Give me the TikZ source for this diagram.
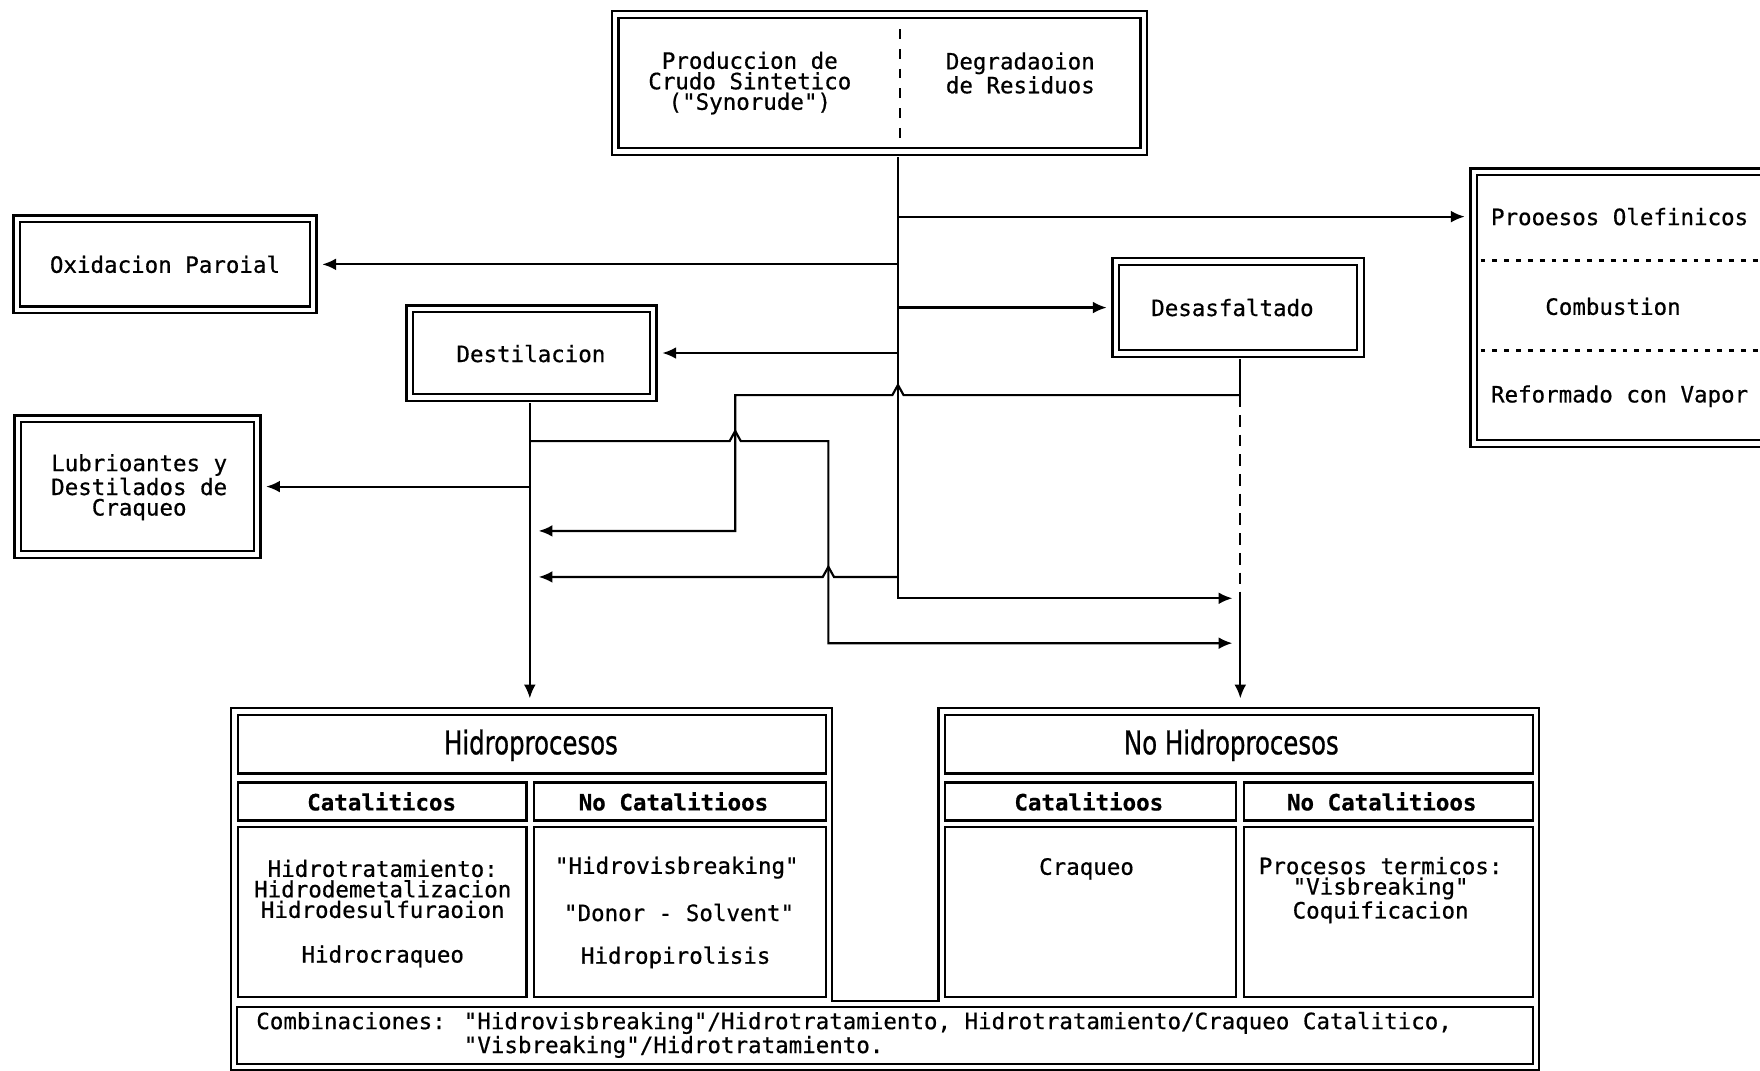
\documentclass[tikz,border=0pt]{standalone}
\usepackage{fontspec}
\usetikzlibrary{arrows.meta,fit}
\newfontfamily\dotmono[FakeBold=0.6]{DejaVu Sans Mono}
\newfontfamily\narrowsans[FakeStretch=0.75,FakeBold=0.8]{DejaVu Sans}

\tikzset{
  lbl/.style={font=\dotmono\fontsize{11.4pt}{10.4pt}\selectfont, align=center, inner sep=0pt},
  combolbl/.style={font=\dotmono\fontsize{11.4pt}{9.8pt}\selectfont, align=left, inner sep=0pt},
  hdr/.style={font=\dotmono\bfseries\fontsize{11.4pt}{12pt}\selectfont, inner sep=0pt},
  ttl/.style={font=\narrowsans\fontsize{16.5pt}{18pt}\selectfont, inner sep=0pt},
  dblbox/.style={rectangle, draw, line width=1.2pt, double=white, double distance=2.2pt, inner sep=0pt},
  cell/.style={rectangle, draw, line width=1.2pt, inner sep=0pt},
  flow/.style={line width=1.1pt},
  arr/.style={flow, -{Latex[length=7pt,width=6pt]}},
  intobox/.style={shorten >=4pt},
  frombox/.style={shorten <=2.2pt},
  dashflow/.style={flow, dash pattern=on 6pt off 4pt},
  sepline/.style={line width=1.5pt, dash pattern=on 2.5pt off 3.5pt},
}

\begin{document}
\begin{tikzpicture}[x=0.02cm, y=-0.02cm]
\path[use as bounding box, fill=white] (0,0) rectangle (1568,954);

% ---- source box ----
\node[dblbox, fit={(548,13) (1019,135)}] (top) {};
\node[lbl] (synt) at (668,74) {Produccion de\\Crudo Sintetico\\("Synorude")};
\node[lbl] (degr) at (909,65) {Degradaoion\\de Residuos};
\draw[line width=1pt, dash pattern=on 5pt off 5pt] (802,26) -- (802,124);

% ---- end uses (right) ----
\node[dblbox, fit={(1313,153) (1640,395)}] (proc) {};
\node[lbl, anchor=west] (olef) at (1328,193) {Prooesos Olefinicos};
\node[lbl] (comb) at (1437,273) {Combustion};
\node[lbl, anchor=west] (refo) at (1328,353) {Reformado con Vapor};
\draw[sepline] (1319,232) -- (1640,232);
\draw[sepline] (1319,312) -- (1640,312);

% ---- intermediate processes ----
\node[dblbox, fit={(15,195) (279,276)}] (oxi) {};
\node[lbl] (oxit) at (oxi.center) {Oxidacion Paroial};

\node[dblbox, fit={(994,233) (1212,315)}] (desa) {};
\node[lbl] (desat) at (1098,274) {Desasfaltado};

\node[dblbox, fit={(365,275) (582,354)}] (dest) {};
\node[lbl] (destt) at (473,315) {Destilacion};

\node[dblbox, fit={(16,373) (229,494)}] (lub) {};
\node[lbl] (lubt) at (124,434) {Lubrioantes y\\Destilados de\\Craqueo};

% ---- classification tables ----
\coordinate (fNW) at (206,631);
\coordinate (fNE1) at (741,631);
\coordinate (fJ1) at (741,892);
\coordinate (fJ2) at (836,892);
\coordinate (fNW2) at (836,631);
\coordinate (fNE) at (1371,631);
\coordinate (fSE) at (1371,953);
\coordinate (fSW) at (206,953);
\draw[line width=1.2pt] (fNW) -- (fNE1) -- (fJ1) -- (fJ2) -- (fNW2) -- (fNE) -- (fSE) -- (fSW) -- cycle;

% hydroprocesses
\node[cell, fit={(212,637) (736,689)}] (hT) {};
\node[cell, fit={(212,697) (469,731)}] (hC) {};
\node[cell, fit={(476,697) (736,731)}] (hN) {};
\node[cell, fit={(212,737) (469,888)}] (hCb) {};
\node[cell, fit={(476,737) (736,888)}] (hNb) {};
\node[ttl] (hTt) at (473,664) {Hidroprocesos};
\node[hdr] (hCt) at (340,714) {Cataliticos};
\node[hdr] (hNt) at (600,714) {No Catalitioos};
\node[lbl] (hCb1) at (341,792) {Hidrotratamiento:\\Hidrodemetalizacion\\Hidrodesulfuraoion};
\node[lbl] (hCb2) at (341,852) {Hidrocraqueo};
\node[lbl] (hNb1) at (603,773) {"Hidrovisbreaking"};
\node[lbl] (hNb2) at (605,813) {"Donor - Solvent"};
\node[lbl] (hNb3) at (602,853) {Hidropirolisis};

% non-hydroprocesses
\node[cell, fit={(842,637) (1366,689)}] (nT) {};
\node[cell, fit={(842,697) (1101,731)}] (nC) {};
\node[cell, fit={(1108,697) (1366,731)}] (nN) {};
\node[cell, fit={(842,737) (1101,888)}] (nCb) {};
\node[cell, fit={(1108,737) (1366,888)}] (nNb) {};
\node[ttl] (nTt) at (1097,664) {No Hidroprocesos};
\node[hdr] (nCt) at (970,714) {Catalitioos};
\node[hdr] (nNt) at (1231,714) {No Catalitioos};
\node[lbl] (nCb1) at (968,774) {Craqueo};
\node[lbl] (nNb1) at (1230,793) {Procesos termicos:\\"Visbreaking"\\Coquificacion};

% combinations row
\node[cell, fit={(211,897) (1366,948)}] (cmb) {};
\node[combolbl, anchor=west] (cmbt) at (228,922) {Combinaciones: "Hidrovisbreaking"/Hidrotratamiento, Hidrotratamiento/Craqueo Catalitico,\\\hphantom{Combinaciones: }"Visbreaking"/Hidrotratamiento.};

% ---- connectors ----
\coordinate (tx) at (800,0);
\coordinate (dx) at (472,0);
\coordinate (dv) at (1105,0);

% main trunk
\coordinate (tEnd) at (800,533);
\draw[arr, frombox, shorten >=4pt] (top.south -| tx) -- (tEnd) -- (tEnd -| dv);
\draw[arr, intobox] (olef -| tx) -- (olef -| proc.west);
\draw[arr, intobox] (oxi.east -| tx) -- (oxi.east);
\draw[arr, intobox] (desa.west -| tx) -- (desa.west);
\draw[arr, intobox] (dest.east -| tx) -- (dest.east);

% distillation outputs
\draw[arr, frombox, shorten >=5pt] (dest.south -| dx) -- (fNW -| dx);
\draw[arr, intobox] (lub.east -| dx) -- (lub.east);
\coordinate (b1) at (472,393);
\coordinate (b1c) at (738,393);
\coordinate (b1d) at (738,573);
\draw[arr, shorten >=4pt] (b1) -- (650,393) -- ++(5,-9) -- ++(5,9) -- (b1c) -- (b1d) -- (b1d -| dv);

% deasphalting outputs
\coordinate (d1) at (1105,352);
\coordinate (d2) at (1105,527);
\draw[flow, frombox] (desa.south -| dv) -- (d1);
\draw[dashflow] (d1) -- (d2);
\draw[arr, shorten >=5pt] (d2) -- (fNE -| dv);
\coordinate (c1) at (655,352);
\coordinate (c2) at (655,473);
\draw[arr, shorten >=4.5pt] (d1) -- (805,352) -- ++(-5,-9) -- ++(-5,9) -- (c1) -- (c2) -- (c2 -| dx);

% trunk to hydroprocesses
\coordinate (e1) at (800,514);
\draw[arr, shorten >=4.5pt] (e1) -- (743,514) -- ++(-5,-9) -- ++(-5,9) -- (e1 -| dx);
\end{tikzpicture}
\end{document}
